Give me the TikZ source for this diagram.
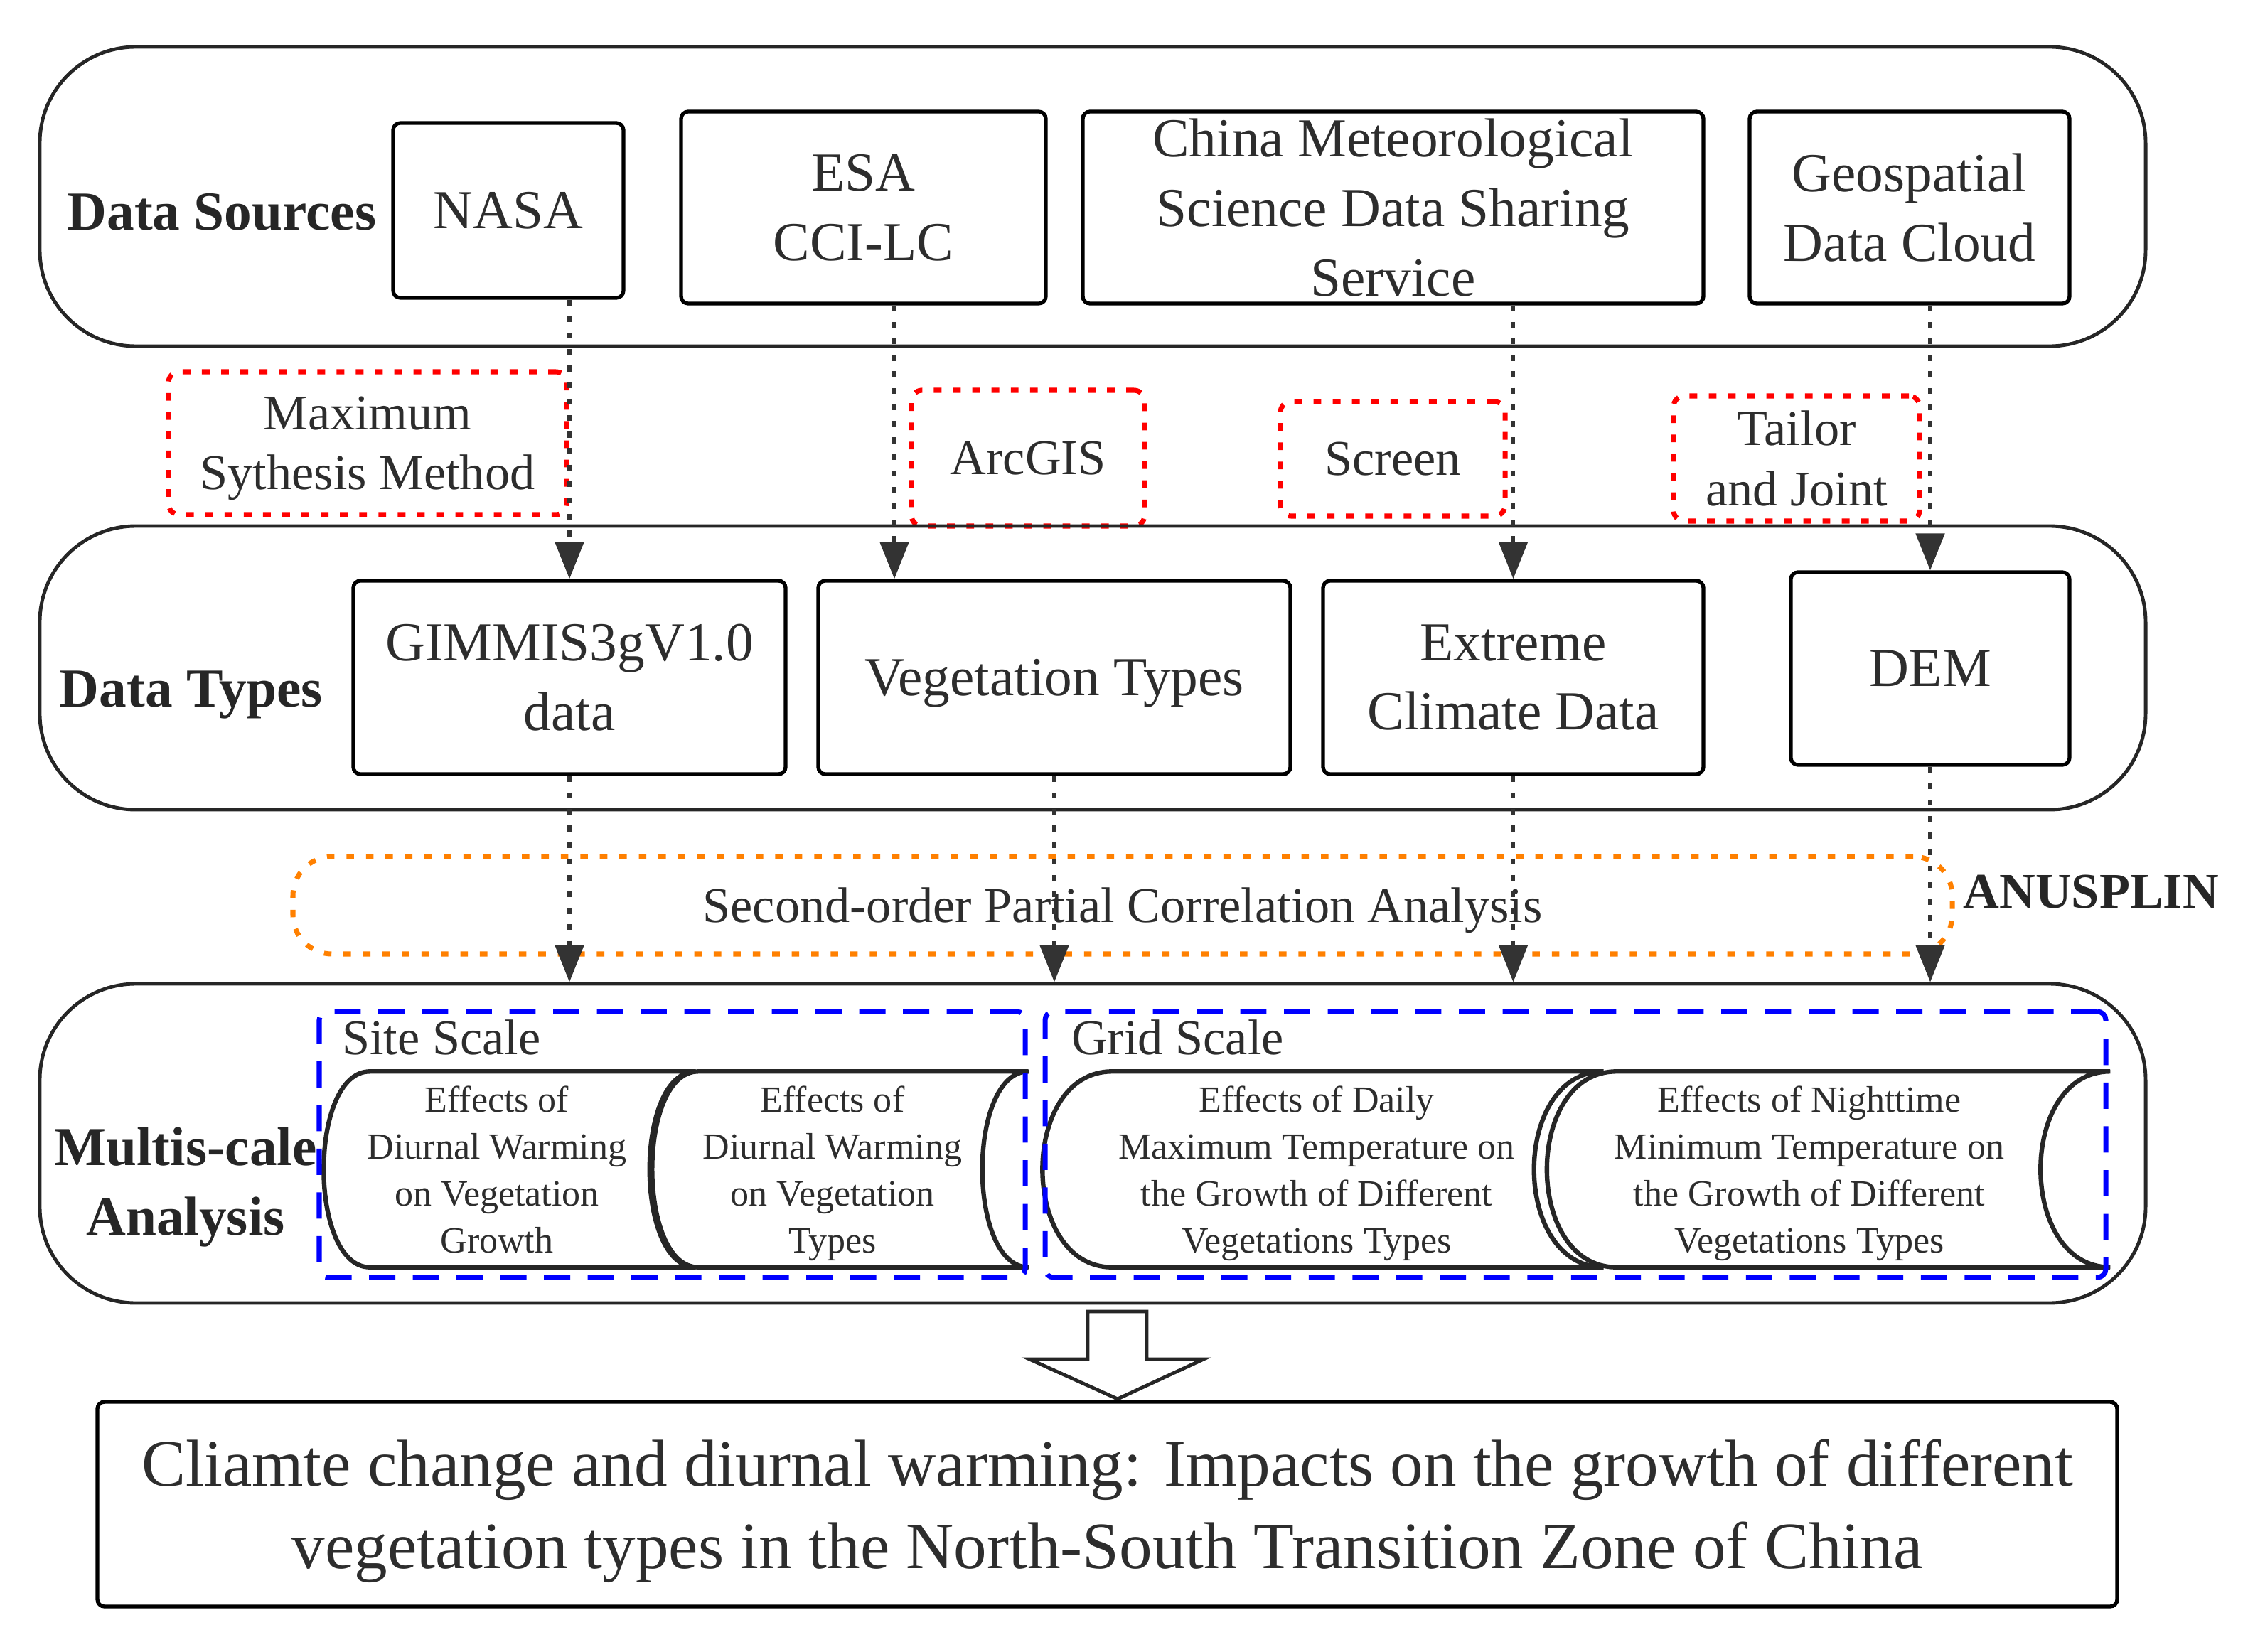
\documentclass[tikz,border=0pt]{standalone}
\usepackage{fontspec}
\setmainfont{Liberation Serif}
\usetikzlibrary{arrows.meta,positioning}

\definecolor{txtgray}{RGB}{45,45,45}
\definecolor{dotred}{RGB}{255,0,0}
\definecolor{dotorange}{RGB}{255,128,0}
\definecolor{scaleblue}{RGB}{0,0,255}

% #1 node, #2 rim depth, #3 shift of the rim against the text
\newcommand{\cylrim}[3]{%
  \draw[cylline] ([xshift=#2cm+#3cm]#1.north west) -- ([xshift=#3cm]#1.north east)
    .. controls ([xshift=-1.333*#2cm+#3cm]#1.north east) and ([xshift=-1.333*#2cm+#3cm]#1.south east)
    .. ([xshift=#3cm]#1.south east)
    -- ([xshift=#2cm+#3cm]#1.south west)
    .. controls ([xshift=-0.333*#2cm+#3cm]#1.south west) and ([xshift=-0.333*#2cm+#3cm]#1.north west) .. cycle;
}

\begin{document}
\begin{tikzpicture}[
    band/.style={draw=black!85, line width=1.4pt, rounded corners=1.35cm, inner sep=0pt},
    srcbox/.style={draw=black, line width=1.5pt, rounded corners=0.1cm, text=txtgray, align=center,
      inner sep=0pt, font=\fontsize{22pt}{27.8pt}\selectfont},
    method/.style={draw=dotred, line width=2pt, dash pattern=on 3.1pt off 4.6pt, rounded corners=0.15cm,
      text=txtgray, align=center, inner sep=0pt, font=\fontsize{20pt}{24pt}\selectfont},
    layer/.style={text=black!85, align=center, inner sep=0pt, font=\bfseries\fontsize{22pt}{27.8pt}\selectfont},
    flow/.style={draw=black!80, line width=1.5pt, dash pattern=on 2.4pt off 4.2pt,
      -{Triangle[length=0.52cm,width=0.40cm]}},
    scalebox/.style={draw=scaleblue, line width=2pt, dash pattern=on 10.5pt off 7pt, rounded corners=0.12cm, inner sep=0pt},
    scalelbl/.style={anchor=west, text=txtgray, inner sep=0pt, font=\fontsize{20pt}{24pt}\selectfont},
    cyl/.style={minimum height=2.74cm, inner sep=0pt, align=center, text=txtgray, text depth=0pt,
      font=\fontsize{14.8pt}{18.8pt}\selectfont},
    cylline/.style={draw=black!85, line width=1.8pt}
  ]
  \useasboundingbox (0,0) rectangle (31.55,-23.24);

  % data sources
  \node[band, minimum width=29.62cm, minimum height=4.21cm] (srcband) at (15.37,-2.765) {};
  \node[layer] (srclbl) at (3.12,-2.98) {Data Sources};
  \node[srcbox, minimum width=3.24cm, minimum height=2.46cm] (nasa) at (7.15,-2.96) {NASA};
  \node[srcbox, minimum width=5.13cm, minimum height=2.70cm] (esa) at (12.145,-2.92) {ESA\\CCI-LC};
  \node[srcbox, minimum width=8.73cm, minimum height=2.70cm] (china) at (19.595,-2.92)
    {China Meteorological\\Science Data Sharing\\Service};
  \node[srcbox, minimum width=4.50cm, minimum height=2.70cm] (geo) at (26.86,-2.92) {Geospatial\\Data Cloud};

  % processing methods
  \node[method, minimum width=5.60cm, minimum height=2.01cm, text depth=0pt] (maxsyn) at (5.17,-6.235)
    {Maximum\\Sythesis Method};
  \node[method, minimum width=3.28cm, minimum height=1.91cm] (arcgis) at (14.46,-6.445) {ArcGIS};
  \node[method, minimum width=3.16cm, minimum height=1.61cm] (screen) at (19.59,-6.455) {Screen};
  \node[method, minimum width=3.46cm, minimum height=1.76cm] (tailor) at (25.27,-6.45) {Tailor\\and Joint};

  % data types
  \node[band, minimum width=29.62cm, minimum height=3.99cm] (typeband) at (15.37,-9.395) {};
  \node[layer] (typelbl) at (2.69,-9.78) {Data Types};
  \node[srcbox, minimum width=6.08cm, minimum height=2.72cm] (gimmis) at (8.01,-9.53) {GIMMIS3gV1.0\\data};
  \node[srcbox, minimum width=6.64cm, minimum height=2.72cm, text depth=0pt] (vegtypes) at (14.83,-9.53)
    {Vegetation Types};
  \node[srcbox, minimum width=5.35cm, minimum height=2.72cm] (extreme) at (21.285,-9.53) {Extreme\\Climate Data};
  \node[srcbox, minimum width=3.92cm, minimum height=2.71cm] (dem) at (27.15,-9.405) {DEM};

  % analysis
  \node[draw=dotorange, line width=2pt, dash pattern=on 3pt off 4.8pt, rounded corners=0.55cm, text depth=0pt,
    minimum width=23.34cm, minimum height=1.37cm, text=txtgray, font=\fontsize{20pt}{24pt}\selectfont]
    (pcorr) at (15.79,-12.735) {Second-order Partial Correlation Analysis};
  \node[anchor=west, inner sep=0pt, text=black!85, font=\bfseries\fontsize{20pt}{24pt}\selectfont]
    (anusplin) at (27.61,-12.55) {ANUSPLIN};

  \node[band, minimum width=29.62cm, minimum height=4.49cm] (scaleband) at (15.37,-16.085) {};
  \node[layer] (scalelayer) at (2.61,-16.70) {Multis-cale\\Analysis};

  \node[cyl, minimum width=5.22cm] (cylA) at (6.99,-16.45) {Effects of\\Diurnal Warming\\on Vegetation\\Growth};
  \node[cyl, minimum width=5.28cm] (cylB) at (11.71,-16.45) {Effects of\\Diurnal Warming\\on Vegetation\\Types};
  \node[cyl, minimum width=7.88cm] (cylC) at (18.52,-16.45)
    {Effects of Daily\\Maximum Temperature on\\the Growth of Different\\Vegetations Types};
  \node[cyl, minimum width=7.91cm] (cylD) at (25.45,-16.45)
    {Effects of Nighttime\\Minimum Temperature on\\the Growth of Different\\Vegetations Types};
  \cylrim{cylA}{0.65}{0.18}
  \cylrim{cylB}{0.65}{0.11}
  \cylrim{cylC}{0.98}{0.09}
  \cylrim{cylD}{0.98}{0.27}

  \node[scalebox, minimum width=9.93cm, minimum height=3.74cm] (site) at (9.455,-16.10) {};
  \node[scalebox, minimum width=14.92cm, minimum height=3.74cm] (grid) at (22.16,-16.10) {};
  \node[scalelbl] (sitelbl) at ([xshift=0.35cm,yshift=-0.40cm]site.north west) {Site Scale};
  \node[scalelbl] (gridlbl) at ([xshift=0.40cm,yshift=-0.40cm]grid.north west) {Grid Scale};

  % result
  \draw[line width=1.4pt, draw=black!85, fill=white] (15.30,-18.45) -- (16.13,-18.45) -- (16.13,-19.12)
    -- (16.93,-19.12) -- (15.72,-19.68) -- (14.48,-19.12) -- (15.30,-19.12) -- cycle;
  \node[srcbox, minimum width=28.41cm, minimum height=2.88cm, text depth=0pt,
    font=\fontsize{26.5pt}{33pt}\selectfont] (result) at (15.575,-21.16)
    {Cliamte change and diurnal warming: Impacts on the growth of different\\
     vegetation types in the North-South Transition Zone of China};

  % flows
  \draw[flow] (nasa.south -| gimmis.north) -- (gimmis.north);
  \draw[flow] ([xshift=0.435cm]esa.south) -- ([xshift=0.435cm]esa.south |- vegtypes.north);
  \draw[flow] (china.south -| extreme.north) -- (extreme.north);
  \draw[flow] (geo.south -| dem.north) -- (dem.north);
  \draw[flow] (gimmis.south) -- (gimmis.south |- scaleband.north);
  \draw[flow] (vegtypes.south) -- (vegtypes.south |- scaleband.north);
  \draw[flow] (extreme.south) -- (extreme.south |- scaleband.north);
  \draw[flow] (dem.south) -- (dem.south |- scaleband.north);
\end{tikzpicture}
\end{document}
